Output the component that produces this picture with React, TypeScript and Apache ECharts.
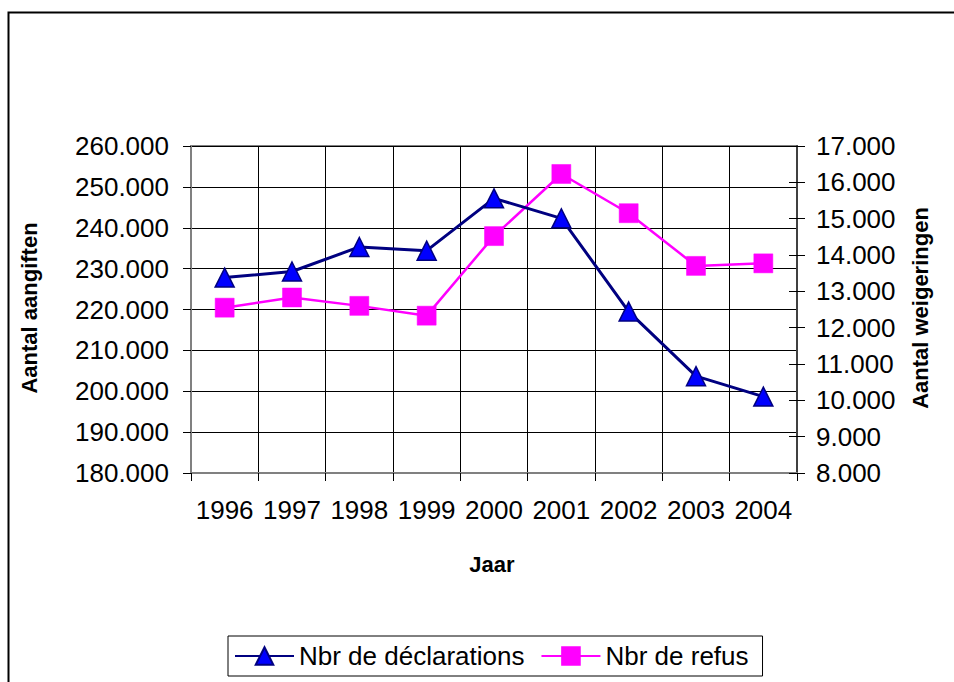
import React, { useEffect, useRef } from "react";
import * as echarts from "echarts";

const years = ["1996", "1997", "1998", "1999", "2000", "2001", "2002", "2003", "2004"];
const declarations = [227800, 229300, 235300, 234400, 247200, 242300, 219500, 203700, 198700];
const refusals = [12550, 12830, 12600, 12330, 14520, 16230, 15150, 13700, 13770];
const leftTitle = "Aantal aangiften";
const rightTitle = "Aantal weigeringen";
const xTitle = "Jaar";
const seriesNames = ["Nbr de déclarations", "Nbr de refus"];

const FONT = "'Liberation Sans', Arial, sans-serif";
const fmt = (v: number) => String(Math.round(v)).replace(/\B(?=(\d{3})+(?!\d))/g, ".");

export default function App() {
  const ref = useRef<HTMLDivElement>(null);
  useEffect(() => {
    document.body.style.margin = "0";
    const chart = echarts.init(ref.current!, undefined, { renderer: "svg" });
    chart.setOption({
      animation: false,
      backgroundColor: "#fff",
      textStyle: { fontFamily: FONT },
      grid: {
        left: 191,
        right: 157,
        top: 146,
        bottom: 209,
        containLabel: false,
        show: true,
        borderColor: "#808080",
        borderWidth: 2,
      },
      legend: {
        left: 228,
        top: 636,
        orient: "horizontal",
        itemWidth: 59,
        itemHeight: 22,
        itemGap: 16,
        padding: [7, 14, 7, 6],
        borderColor: "#000",
        borderWidth: 1,
        textStyle: { fontSize: 26, color: "#000", fontFamily: FONT },
        data: seriesNames,
      },
      xAxis: {
        type: "category",
        data: years,
        boundaryGap: true,
        axisLine: { show: true, lineStyle: { color: "#808080", width: 2 } },
        axisTick: { show: true, length: 8, interval: 0, lineStyle: { color: "#000" } },
        axisLabel: { fontSize: 26, color: "#000", margin: 24, interval: 0, fontFamily: FONT },
        splitLine: { show: true, interval: 0, lineStyle: { color: "#000", width: 1 } },
      },
      yAxis: [
        {
          type: "value",
          position: "left",
          min: 180000,
          max: 260000,
          interval: 10000,
          axisLine: { show: true, lineStyle: { color: "#808080", width: 2 } },
          axisTick: { show: true, length: 8, lineStyle: { color: "#000" } },
          axisLabel: { fontSize: 26, color: "#000", margin: 22, formatter: fmt, fontFamily: FONT },
          splitLine: { show: true, lineStyle: { color: "#000", width: 1 } },
        },
        {
          type: "value",
          position: "right",
          min: 8000,
          max: 17000,
          interval: 1000,
          axisLine: { show: true, lineStyle: { color: "#404040", width: 2 } },
          axisTick: { show: true, length: 8, lineStyle: { color: "#000" } },
          axisLabel: { fontSize: 26, color: "#000", margin: 19, formatter: fmt, fontFamily: FONT },
          splitLine: { show: false },
        },
        {
          type: "value",
          position: "right",
          min: 8000,
          max: 17000,
          interval: 1000,
          axisLine: { show: false },
          axisTick: { show: true, inside: true, length: 8, lineStyle: { color: "#000" } },
          axisLabel: { show: false },
          splitLine: { show: false },
        },
      ],
      series: [
        {
          name: seriesNames[0],
          type: "line",
          yAxisIndex: 0,
          data: declarations,
          symbol: "triangle",
          symbolSize: 19,
          lineStyle: { color: "#000080", width: 3 },
          itemStyle: { color: "#0000FF", borderColor: "#000080", borderWidth: 1.5 },
          z: 3,
        },
        {
          name: seriesNames[1],
          type: "line",
          yAxisIndex: 1,
          data: refusals,
          symbol: "rect",
          symbolSize: 19,
          lineStyle: { color: "#FF00FF", width: 2.5 },
          itemStyle: { color: "#FF00FF", borderColor: "#FF00FF", borderWidth: 0.5 },
          z: 2,
        },
      ],
      graphic: [
        {
          type: "rect",
          shape: { x: 8.5, y: 12.5, width: 1000, height: 1000 },
          style: { fill: "none", stroke: "#000", lineWidth: 2 },
          silent: true,
        },
        {
          type: "text",
          x: 29,
          y: 308,
          rotation: Math.PI / 2,
          style: {
            text: leftTitle,
            fontSize: 22,
            fontWeight: "bold",
            fontFamily: FONT,
            fill: "#000",
            align: "center",
            verticalAlign: "middle",
          },
        },
        {
          type: "text",
          x: 920,
          y: 308,
          rotation: Math.PI / 2,
          style: {
            text: rightTitle,
            fontSize: 22,
            fontWeight: "bold",
            fontFamily: FONT,
            fill: "#000",
            align: "center",
            verticalAlign: "middle",
          },
        },
        {
          type: "text",
          x: 492,
          y: 564,
          style: {
            text: xTitle,
            fontSize: 22,
            fontWeight: "bold",
            fontFamily: FONT,
            fill: "#000",
            align: "center",
            verticalAlign: "middle",
          },
        },
      ],
    });
    return () => chart.dispose();
  }, []);
  return <div ref={ref} style={{ width: 954, height: 682 }} />;
}
